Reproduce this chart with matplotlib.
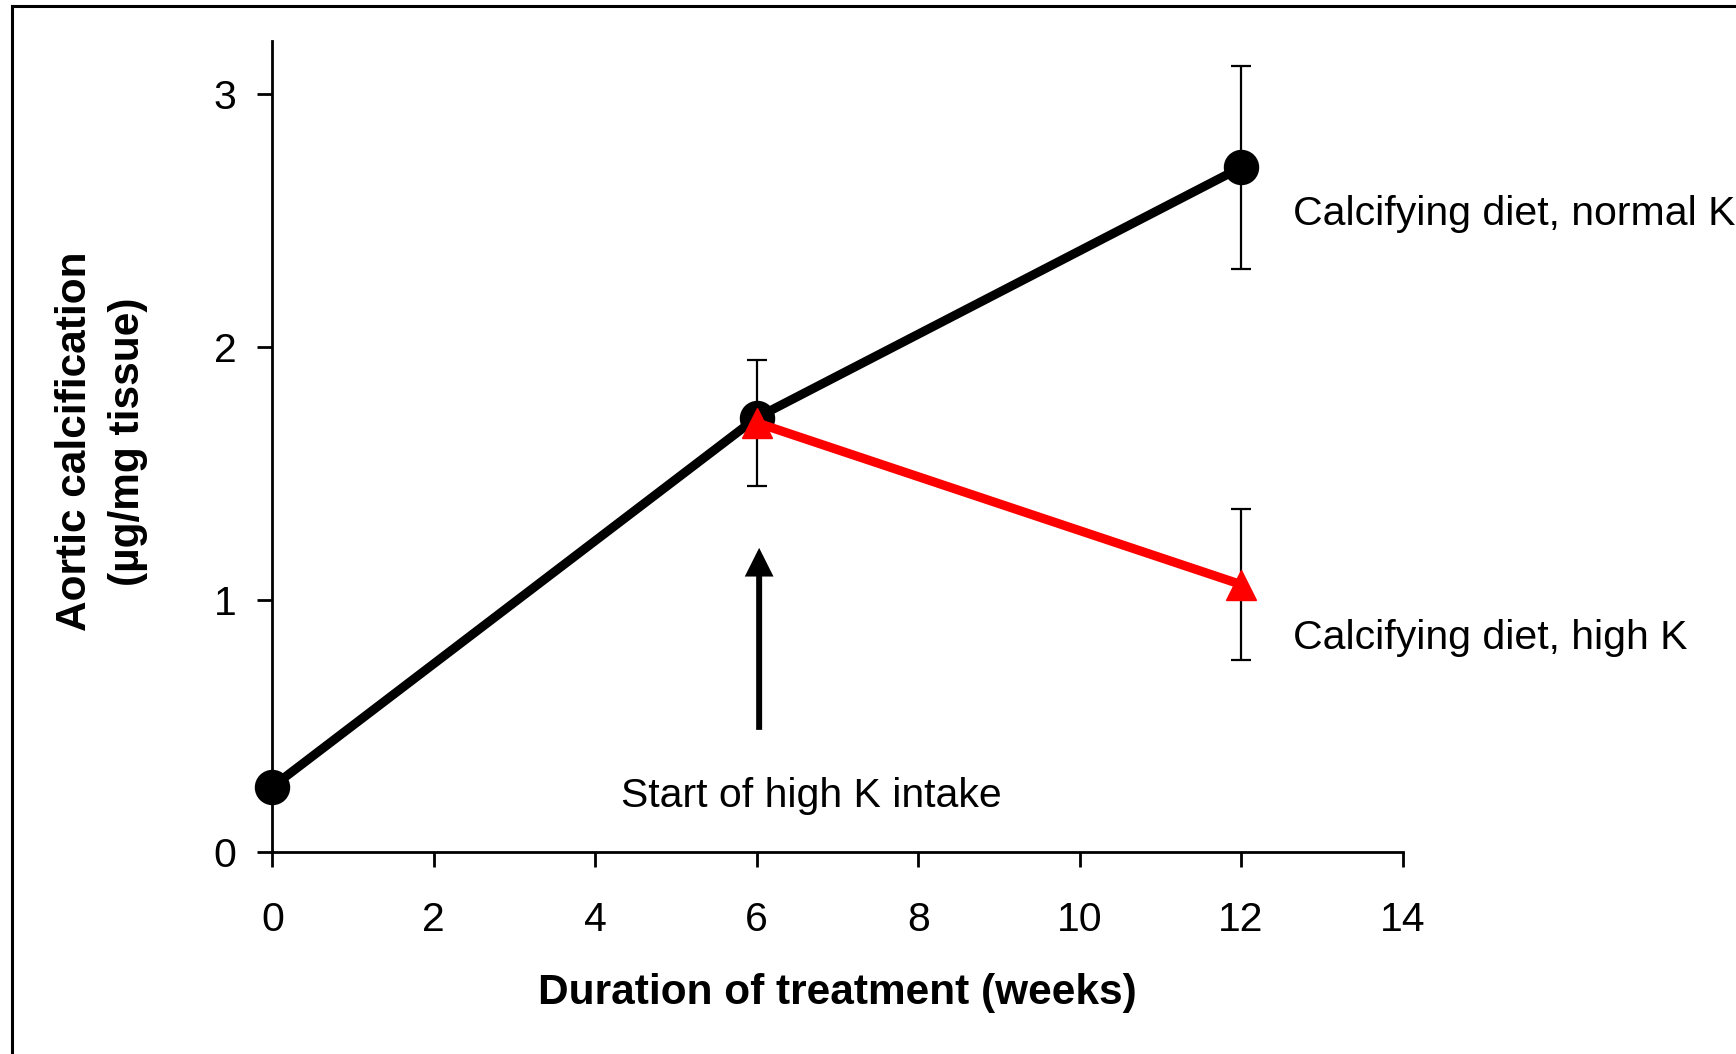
import matplotlib
matplotlib.use("Agg")
import matplotlib.pyplot as plt
from matplotlib.lines import Line2D

plt.rcParams['font.family'] = ['Liberation Sans', 'DejaVu Sans']

# Data
weeks_normal = [0, 6, 12]
calc_normal = [0.26, 1.72, 2.71]
err_normal = [0.0, 0.0, 0.40]

weeks_highk = [6, 12]
calc_highk = [1.70, 1.06]
err_highk = [0.25, 0.30]

x_ticks = [0, 2, 4, 6, 8, 10, 12, 14]
y_ticks = [0, 1, 2, 3]

label_normal = "Calcifying diet, normal K"
label_highk = "Calcifying diet, high K"
arrow_label = "Start of high K intake"
xlabel = "Duration of treatment (weeks)"
ylabel_lines = ["Aortic calcification", "(\u00b5g/mg tissue)"]

FS = 29.5
FSB = 30.5

fig = plt.figure(figsize=(17.36, 10.54), dpi=100)
ax = fig.add_axes([0.1569, 0.1912, 0.6510, 0.7699])

# error bars (behind markers)
ax.errorbar(weeks_normal[2:], calc_normal[2:], yerr=err_normal[2:], fmt='none', ecolor='black',
            elinewidth=1.6, capsize=7.2, capthick=1.6, zorder=2, clip_on=False)
ax.errorbar(weeks_highk, calc_highk, yerr=err_highk, fmt='none', ecolor='black',
            elinewidth=1.6, capsize=7.2, capthick=1.6, zorder=2, clip_on=False)

ax.plot(weeks_normal, calc_normal, color='black', lw=6.5, marker='o', markersize=24.5,
        zorder=3, clip_on=False, solid_capstyle='butt')
ax.plot(weeks_highk, calc_highk, color='#ff0000', lw=6.5, marker='^', markersize=22,
        zorder=4, clip_on=False, solid_capstyle='butt')

# arrow
ax.arrow(6.03, 0.485, 0, 1.205 - 0.485, width=0.074, head_width=0.356,
         head_length=0.1135, length_includes_head=True, color='black', lw=0,
         zorder=3, clip_on=False)

ax.text(4.32, 0.223, arrow_label, fontsize=FS, ha='left', va='center', clip_on=False)
ax.text(12.645, 2.527, label_normal, fontsize=FS, ha='left', va='center', clip_on=False)
ax.text(12.645, 0.85, label_highk, fontsize=FS, ha='left', va='center', clip_on=False)

ax.set_xlim(0, 14)
ax.set_ylim(0, 3.21)
ax.set_xticks(x_ticks)
ax.set_yticks(y_ticks)
ax.set_xticklabels([str(v) for v in x_ticks])
ax.set_yticklabels([str(v) for v in y_ticks])

for s in ['top', 'right']:
    ax.spines[s].set_visible(False)
for s in ['left', 'bottom']:
    ax.spines[s].set_linewidth(2)
ax.tick_params(axis='both', direction='out', length=11, width=2, labelsize=FS)
ax.tick_params(axis='y', pad=15)
ax.tick_params(axis='x', pad=24)

fig.text(0.5 * (0.1569 + 0.8078), 1 - 993 / 1054, xlabel, fontsize=FSB,
         fontweight='bold', ha='center', va='center')

fig.text(75 / 1736, 1 - 441.5 / 1054, ylabel_lines[0], fontsize=FSB,
         fontweight='bold', rotation=90, ha='center', va='center')
fig.text(128 / 1736, 1 - 441.5 / 1054, ylabel_lines[1], fontsize=FSB,
         fontweight='bold', rotation=90, ha='center', va='center')

# frame (left & top edges visible)
fig.add_artist(Line2D([12 / 1736, 12 / 1736], [0, 1 - 6 / 1054], transform=fig.transFigure,
                      color='black', lw=2.2))
fig.add_artist(Line2D([12 / 1736, 1], [1 - 6 / 1054, 1 - 6 / 1054], transform=fig.transFigure,
                      color='black', lw=2.2))

fig.savefig('out.png', dpi=100)
